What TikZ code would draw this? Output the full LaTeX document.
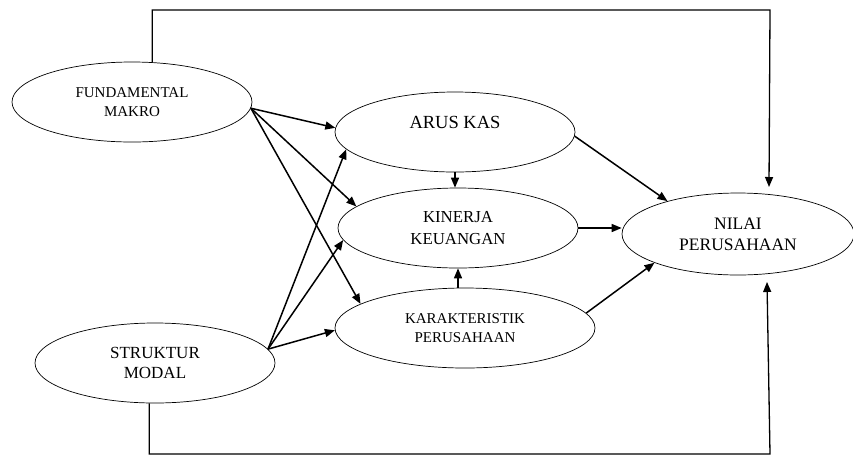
\documentclass[tikz,border=0pt]{standalone}
\usepackage{fontspec}
\setmainfont{Liberation Serif}
\usetikzlibrary{shapes.geometric,arrows.meta}
\begin{document}
\begin{tikzpicture}[x=1pt,y=-1pt,
  ell/.style={draw,ellipse,line width=0.7pt,inner sep=0pt,align=center,minimum width=240pt,minimum height=80pt},
  arr/.style={line width=1.5pt,-{Triangle[length=10pt,width=8pt]}},
  conn/.style={line width=1.3pt,-{Triangle[length=10pt,width=8pt]}}]
\useasboundingbox (0,0) rectangle (853,456);
% nodes
\node[ell,font=\fontsize{15}{19}\selectfont] (fm) at (132,102) {FUNDAMENTAL\\MAKRO};
\node[ell] (ak) at (455,132) {};
\node[font=\fontsize{18.5}{22}\selectfont] (aktext) at (455,122) {ARUS KAS};
\node[ell,font=\fontsize{16.8}{22}\selectfont] (kk) at (458,228) {KINERJA\\KEUANGAN};
\node[ell,minimum width=260pt,font=\fontsize{15}{19}\selectfont] (kar) at (465,328) {KARAKTERISTIK\\PERUSAHAAN};
\node[ell,minimum width=232pt,minimum height=82pt,font=\fontsize{17.5}{21}\selectfont] (np) at (738,234) {NILAI\\PERUSAHAAN};
\node[ell,font=\fontsize{17}{20}\selectfont] (sm) at (155,363) {STRUKTUR\\MODAL};
% free corner coordinates
\coordinate (tr) at (770,10);
\coordinate (tt) at (769,187);
\coordinate (br) at (770,454);
\coordinate (bt) at (767,282);
% arrows from FUNDAMENTAL MAKRO
\draw[arr] (fm.-3) -- (ak.178);
\draw[arr] (fm.-3) -- (kk.168);
\draw[arr] (fm.-3) -- (kar.167);
% arrows from STRUKTUR MODAL
\draw[arr] (sm.7) -- (ak.189);
\draw[arr] (sm.7) -- (kk.186);
\draw[arr] (sm.7) -- (kar.181);
% between middle nodes
\draw[arr] (ak.south) -- (ak.south |- kk.north);
\draw[arr] (kk.south |- kar.north) -- (kk.south);
% to NILAI PERUSAHAAN
\draw[arr] (ak.-2) -- (np.155);
\draw[arr] (kk.east) -- (kk.east -| np.west);
\draw[arr] (kar.7.5) -- (np.199);
% outer connectors
\draw[conn] (fm.63) |- (tr) -- (tt);
\draw[conn] (sm.262) |- (br) -- (bt);
\end{tikzpicture}
\end{document}
